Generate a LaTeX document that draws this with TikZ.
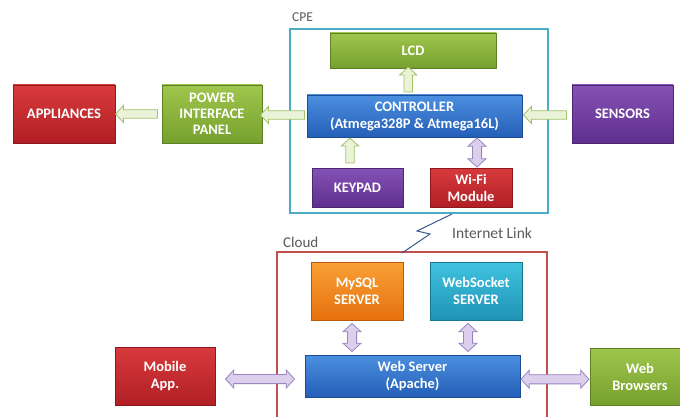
\documentclass[tikz,border=0pt]{standalone}
\usepackage{fontspec}
\setmainfont{Carlito}
\usetikzlibrary{shapes.arrows,calc,shadows}
\definecolor{rtop}{HTML}{D83A3C}\definecolor{rbot}{HTML}{B01F25}
\definecolor{gtop}{HTML}{9FC64C}\definecolor{gbot}{HTML}{76A02E}
\definecolor{btop}{HTML}{4C8FDF}\definecolor{bbot}{HTML}{245FB8}
\definecolor{ptop}{HTML}{8452B4}\definecolor{pbot}{HTML}{5F2F90}
\definecolor{otop}{HTML}{F9A035}\definecolor{obot}{HTML}{E6710E}
\definecolor{ttop}{HTML}{40C3DF}\definecolor{tbot}{HTML}{1F93B6}
\definecolor{cpeline}{HTML}{4BACC6}\definecolor{cloudline}{HTML}{C0504D}
\definecolor{garfill}{HTML}{EAF3D8}\definecolor{garline}{HTML}{A2C266}
\definecolor{parfill}{HTML}{DCCFEC}\definecolor{parline}{HTML}{9A84C2}
\definecolor{labelgray}{HTML}{595959}\definecolor{boltc}{HTML}{3A5A8C}
\tikzset{
  blk/.style={rectangle, inner sep=1pt, align=center, text=white,
    font=\fontsize{14.5}{17}\selectfont\bfseries,
    drop shadow={opacity=0.25,shadow xshift=1.2pt,shadow yshift=-1.2pt}},
  redblk/.style={blk, top color=rtop, bottom color=rbot, draw=rbot!80!black, line width=0.3pt},
  greenblk/.style={blk, top color=gtop, bottom color=gbot, draw=gbot!80!black, line width=0.3pt},
  blueblk/.style={blk, top color=btop, bottom color=bbot, draw=bbot!80!black, line width=0.3pt},
  purpleblk/.style={blk, top color=ptop, bottom color=pbot, draw=pbot!80!black, line width=0.3pt},
  orangeblk/.style={blk, top color=otop, bottom color=obot, draw=obot!80!black, line width=0.3pt},
  tealblk/.style={blk, top color=ttop, bottom color=tbot, draw=tbot!80!black, line width=0.3pt},
  garrow/.style={single arrow, draw=garline, fill=garfill, line width=0.8pt,
    inner sep=3.8pt, single arrow head extend=4.5pt, single arrow tip angle=95},
  parrow/.style={double arrow, draw=parline, fill=parfill, line width=0.8pt,
    inner sep=4.2pt, double arrow head extend=4.5pt, double arrow tip angle=95},
  grouplabel/.style={text=labelgray, inner sep=0pt, anchor=base west},
}
\begin{document}
\begin{tikzpicture}[x=1pt,y=-1pt]
\useasboundingbox (0,0) rectangle (680,417);
\clip (0,0) rectangle (680,417);
\fill[white] (0,0) rectangle (680,417);

% group frames
\draw[cpeline, line width=1.1pt] (290,29) rectangle (548,213);
\draw[cloudline, line width=1.1pt] (277,252) rectangle (547,430);
\node[grouplabel, font=\fontsize{13.5}{15}\selectfont] (cpelbl) at (292,22) {CPE};
\node[grouplabel, font=\fontsize{15}{17}\selectfont] (cloudlbl) at (283,247) {Cloud};
\node[grouplabel, font=\fontsize{15.5}{17}\selectfont] (inetlbl) at (452,238) {Internet Link};

% CPE blocks
\node[greenblk, minimum width=166pt, minimum height=35pt] (lcd) at (413,50.5) {LCD};
\node[blueblk, minimum width=215pt, minimum height=42pt] (ctrl) at (414.5,116) {CONTROLLER\\(Atmega328P \& Atmega16L)};
\node[purpleblk, minimum width=91pt, minimum height=39pt] (keypad) at (357.5,187.5) {KEYPAD};
\node[redblk, minimum width=82pt, minimum height=39pt] (wifi) at (471,187.5) {Wi-Fi\\Module};

% outside CPE
\node[redblk, minimum width=102pt, minimum height=58pt] (appl) at (64,114) {APPLIANCES};
\node[greenblk, minimum width=100pt, minimum height=58pt, font=\fontsize{14.5}{16}\selectfont\bfseries] (pip) at (212,114) {POWER\\INTERFACE\\PANEL};
\node[purpleblk, minimum width=101pt, minimum height=58pt] (sens) at (622.5,114) {SENSORS};

% Cloud blocks
\node[orangeblk, minimum width=92pt, minimum height=58pt] (mysql) at (357,291) {MySQL\\SERVER};
\node[tealblk, minimum width=92pt, minimum height=58pt] (wsock) at (476,291) {WebSocket\\SERVER};
\node[blueblk, minimum width=215pt, minimum height=42pt] (web) at (412.5,376) {Web Server\\(Apache)};
\node[redblk, minimum width=100pt, minimum height=58pt] (mobile) at (165,376) {Mobile\\App.};
\node[greenblk, minimum width=100pt, minimum height=57pt] (brows) at (640,376.5) {Web\\Browsers};

% block arrows
\node[garrow, minimum height=44pt, shape border rotate=180] (a1) at ($(ctrl.west)!0.5!(pip.east)$) {};
\node[garrow, minimum height=42pt, shape border rotate=180] (a2) at ($(pip.west)!0.5!(appl.east)$) {};
\node[garrow, minimum height=43pt, shape border rotate=180] (a3) at ($(sens.west)!0.5!(ctrl.east)$) {};
\node[garrow, minimum height=25pt, shape border rotate=90] (a4) at ([xshift=-5.5pt]$(lcd.south)!0.5!(ctrl.north)$) {};
\node[garrow, minimum height=25pt, shape border rotate=90] (a5) at ([xshift=-7.5pt]$(keypad.north)!0.5!(keypad.north |- ctrl.south)$) {};
\node[parrow, minimum height=29pt, shape border rotate=90] (a6) at ([xshift=6pt]$(wifi.north)!0.5!(wifi.north |- ctrl.south)$) {};
\node[parrow, minimum height=28pt, shape border rotate=90] (a7) at ([xshift=-5pt]$(mysql.south)!0.5!(mysql.south |- web.north)$) {};
\node[parrow, minimum height=28pt, shape border rotate=90] (a8) at ([xshift=-8pt]$(wsock.south)!0.5!(wsock.south |- web.north)$) {};
\node[parrow, minimum height=69pt] (a9) at ([yshift=-3pt]$(mobile.east)!0.5!(web.west)$) {};
\node[parrow, minimum height=68pt] (a10) at ([yshift=-3pt]$(web.east)!0.5!(brows.west)$) {};

% internet link bolt
\coordinate (z0) at (452,214);
\coordinate (z1) at (417,231);
\coordinate (z2) at (430,234);
\coordinate (z3) at (402,253);
\draw[boltc, line width=1pt, line join=miter] (z0) -- (z1) -- (z2) -- (z3);
\end{tikzpicture}
\end{document}
